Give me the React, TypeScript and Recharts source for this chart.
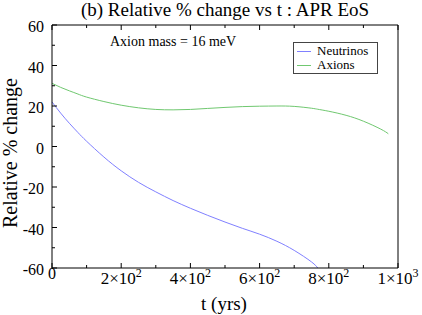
import { Legend, Line, LineChart, XAxis, YAxis } from "recharts";

// time in years
const T = [0, 25, 50, 75, 100, 150, 200, 250, 300, 350, 400, 450, 500, 550, 600, 650, 700, 750, 768, 800, 850, 900, 950, 972];
// relative % change
const NEUTRINOS = [22, 16.5, 11.5, 6.9, 2.6, -5.2, -12, -17.7, -22.4, -26.7, -30.5, -34, -37.3, -40.4, -43.3, -46.8, -51.3, -57, -60, null, null, null, null, null];
const AXIONS = [31.2, 29.2, 27.5, 25.9, 24.4, 22.2, 20.4, 19.1, 18.3, 18.1, 18.3, 18.8, 19.3, 19.7, 19.9, 20, 19.8, 18.9, 18.4, 17.4, 15.4, 12.5, 8.6, 6.3];

const SERIES = ["Neutrinos", "Axions"];
const X_TICKS = [0, 100, 200, 300, 400, 500, 600, 700, 800, 900, 1000];
const Y_TICKS = [-60, -50, -40, -30, -20, -10, 0, 10, 20, 30, 40, 50, 60];

const BLUE = "#8080ff";
const GREEN = "#70c870";
const FONT = "Liberation Serif, Tinos, DejaVu Serif, serif";

const data = T.map((t, i) => ({ t, neutrinos: NEUTRINOS[i], axions: AXIONS[i] }));

const xMajor = (v: number) => v % 200 === 0;
const yMajor = (v: number) => v % 20 === 0;

function BottomTick({ x, y, payload }: any) {
  const v = payload.value;
  const major = xMajor(v);
  let label = null;
  if (major) {
    if (v === 0) {
      label = (
        <text x={x} y={y + 11} textAnchor="middle" fontSize={16} style={{ fontFamily: FONT }} fill="#000">
          0
        </text>
      );
    } else {
      const exp = Math.floor(Math.log10(v) + 1e-9);
      const mant = Math.round(v / Math.pow(10, exp));
      label = (
        <text x={x} y={y + 16} textAnchor="middle" fontSize={17} style={{ fontFamily: FONT }} fill="#000">
          {mant}×10
          <tspan dy={-7} fontSize={12}>
            {exp}
          </tspan>
        </text>
      );
    }
  }
  return (
    <g>
      <line x1={x} y1={y} x2={x} y2={y - (major ? 5 : 3)} stroke="#000" />
      {label}
    </g>
  );
}

function TopTick({ x, y, payload }: any) {
  return <line x1={x} y1={y} x2={x} y2={y + (xMajor(payload.value) ? 5 : 3)} stroke="#000" />;
}

function LeftTick({ x, y, payload }: any) {
  const v = payload.value;
  const major = yMajor(v);
  return (
    <g>
      <line x1={x} y1={y} x2={x + (major ? 5 : 3)} y2={y} stroke="#000" />
      {major && (
        <text x={x - 8} y={y + 7} textAnchor="end" fontSize={16} style={{ fontFamily: FONT }} fill="#000">
          {v}
        </text>
      )}
    </g>
  );
}

function RightTick({ x, y, payload }: any) {
  return <line x1={x} y1={y} x2={x - (yMajor(payload.value) ? 5 : 3)} y2={y} stroke="#000" />;
}

function LegendBox({ payload }: any) {
  const items = [...(payload || [])].sort((a: any, b: any) => SERIES.indexOf(a.value) - SERIES.indexOf(b.value));
  return (
    <div
      style={{
        border: "1px solid #444",
        background: "#fff",
        padding: "1px 3px 1px 3px",
        fontFamily: FONT,
        fontSize: 13,
        lineHeight: "14px",
      }}
    >
      {items.map((p: any) => (
        <div key={p.value} style={{ display: "flex", alignItems: "center" }}>
          <span style={{ display: "inline-block", width: 14, height: 1, background: p.color, marginRight: 6 }} />
          <span>{p.value}</span>
        </div>
      ))}
    </div>
  );
}

export default function App() {
  return (
    <div style={{ position: "absolute", left: 0, top: 0, width: 422, height: 315, background: "#fff", fontFamily: FONT }}>
      <div
        style={{
          position: "absolute",
          left: 225,
          top: 0,
          transform: "translateX(-50%)",
          whiteSpace: "nowrap",
          fontSize: 19,
          lineHeight: "20px",
        }}
      >
        (b) Relative % change vs t : APR EoS
      </div>
      <div style={{ position: "absolute", left: 110, top: 34, whiteSpace: "nowrap", fontSize: 14, lineHeight: "16px" }}>
        Axion mass = 16 meV
      </div>
      <div
        style={{
          position: "absolute",
          left: 10,
          top: 153,
          transform: "translate(-50%, -50%) rotate(-90deg)",
          whiteSpace: "nowrap",
          fontSize: 20,
          lineHeight: "20px",
        }}
      >
        Relative % change
      </div>
      <div
        style={{
          position: "absolute",
          left: 224,
          top: 294,
          transform: "translateX(-50%)",
          whiteSpace: "nowrap",
          fontSize: 19,
          lineHeight: "20px",
        }}
      >
        t (yrs)
      </div>
      <LineChart width={422} height={315} data={data} margin={{ top: 0, right: 0, bottom: 0, left: 0 }}>
        <XAxis
          dataKey="t"
          type="number"
          domain={[0, 1000]}
          ticks={X_TICKS}
          interval={0}
          height={47}
          tickSize={0}
          tickMargin={0}
          tickLine={false}
          axisLine={{ stroke: "#000" }}
          tick={<BottomTick />}
        />
        <XAxis
          xAxisId="top"
          orientation="top"
          dataKey="t"
          type="number"
          domain={[0, 1000]}
          ticks={X_TICKS}
          interval={0}
          height={25}
          tickSize={0}
          tickMargin={0}
          tickLine={false}
          axisLine={{ stroke: "#000" }}
          tick={<TopTick />}
        />
        <YAxis
          type="number"
          domain={[-60, 60]}
          ticks={Y_TICKS}
          interval={0}
          allowDataOverflow
          width={52}
          tickSize={0}
          tickMargin={0}
          tickLine={false}
          axisLine={{ stroke: "#000" }}
          tick={<LeftTick />}
        />
        <YAxis
          yAxisId="right"
          orientation="right"
          type="number"
          domain={[-60, 60]}
          ticks={Y_TICKS}
          interval={0}
          width={24}
          tickSize={0}
          tickMargin={0}
          tickLine={false}
          axisLine={{ stroke: "#000" }}
          tick={<RightTick />}
        />
        <Legend
          layout="horizontal"
          align="center"
          verticalAlign="middle"
          wrapperStyle={{ position: "absolute", left: 293, top: 42, width: 85 }}
          content={<LegendBox />}
        />
        <Line
          dataKey="neutrinos"
          name="Neutrinos"
          stroke={BLUE}
          strokeWidth={1}
          dot={false}
          type="natural"
          isAnimationActive={false}
        />
        <Line
          dataKey="axions"
          name="Axions"
          stroke={GREEN}
          strokeWidth={1}
          dot={false}
          type="natural"
          isAnimationActive={false}
        />
      </LineChart>
    </div>
  );
}
